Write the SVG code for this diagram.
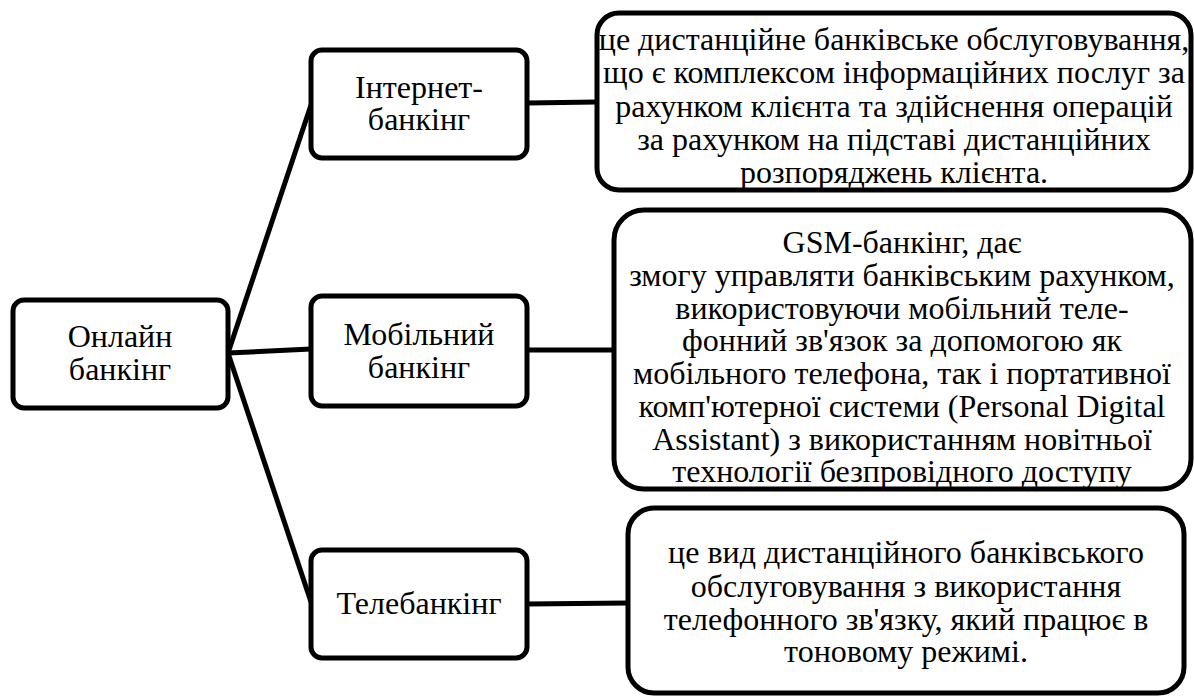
<svg xmlns="http://www.w3.org/2000/svg" width="1194" height="698" viewBox="0 0 1194 698">
<style>
.box{fill:#fff;stroke:#000;stroke-width:5}
.c{stroke:#000;stroke-width:5;fill:none}
.t{font-family:'Liberation Serif','Times New Roman',serif;font-size:32px;fill:#000;text-anchor:middle}
</style>
<rect width="1194" height="698" fill="#fff"/>
<g id="connectors">
<line class="c" x1="228" y1="353" x2="311" y2="105"/>
<line class="c" x1="228" y1="353" x2="311" y2="349"/>
<line class="c" x1="228" y1="353" x2="311" y2="602"/>
<line class="c" x1="527" y1="103" x2="597" y2="102"/>
<line class="c" x1="527" y1="350" x2="614" y2="350"/>
<line class="c" x1="527" y1="604" x2="628" y2="603"/>
</g>
<g id="online">
<rect class="box" x="13" y="300" width="215" height="108" rx="11"/>
<text class="t" x="120" y="347">Онлайн</text>
<text class="t" x="120" y="380">банкінг</text>
</g>
<g id="internet">
<rect class="box" x="311" y="50" width="216" height="108" rx="11"/>
<text class="t" x="419" y="98">Інтернет-</text>
<text class="t" x="419" y="130">банкінг</text>
</g>
<g id="mobile">
<rect class="box" x="311" y="296" width="216" height="110" rx="11"/>
<text class="t" x="419" y="345">Мобільний</text>
<text class="t" x="419" y="378">банкінг</text>
</g>
<g id="tele">
<rect class="box" x="311" y="550" width="216" height="108" rx="11"/>
<text class="t" x="419" y="614">Телебанкінг</text>
</g>
<g id="internet-desc">
<rect class="box" x="597" y="13" width="594" height="177" rx="22"/>
<text class="t" x="894" y="50">це дистанційне банківське обслуговування,</text>
<text class="t" x="894" y="83">що є комплексом інформаційних послуг за</text>
<text class="t" x="894" y="117">рахунком клієнта та здійснення операцій</text>
<text class="t" x="894" y="150">за рахунком на підставі дистанційних</text>
<text class="t" x="894" y="183">розпоряджень клієнта.</text>
</g>
<g id="mobile-desc">
<rect class="box" x="614" y="210" width="577" height="279" rx="30"/>
<text class="t" x="902" y="253">GSM-банкінг, дає</text>
<text class="t" x="902" y="286">змогу управляти банківським рахунком,</text>
<text class="t" x="902" y="319">використовуючи мобільний теле-</text>
<text class="t" x="902" y="351">фонний зв'язок за допомогою як</text>
<text class="t" x="902" y="384">мобільного телефона, так і портативної</text>
<text class="t" x="902" y="417">комп'ютерної системи (Personal Digital</text>
<text class="t" x="902" y="450">Assistant) з використанням новітньої</text>
<text class="t" x="902" y="482">технології безпровідного доступу</text>
</g>
<g id="tele-desc">
<rect class="box" x="628" y="508" width="556" height="185" rx="26"/>
<text class="t" x="906" y="563">це вид дистанційного банківського</text>
<text class="t" x="906" y="597">обслуговування з використання</text>
<text class="t" x="906" y="630">телефонного зв'язку, який працює в</text>
<text class="t" x="906" y="662">тоновому режимі.</text>
</g>
</svg>
